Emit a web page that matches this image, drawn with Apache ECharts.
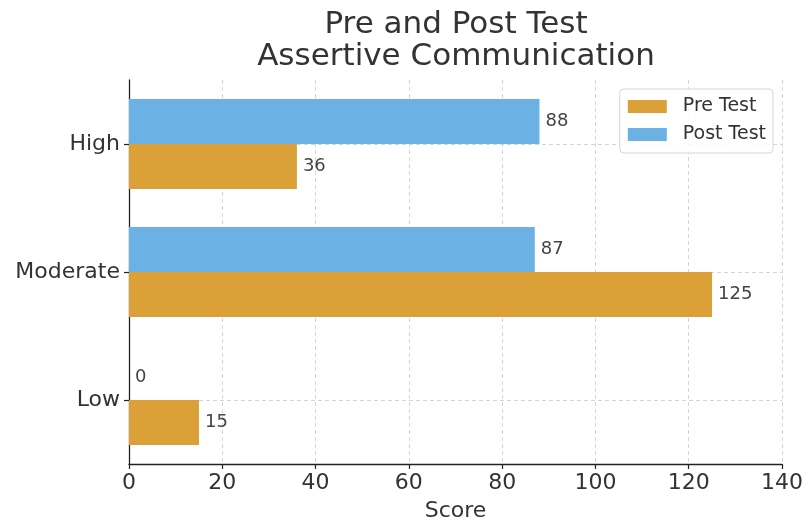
<!DOCTYPE html>
<html>
<head>
<meta charset="utf-8">
<script src="https://cdn.jsdelivr.net/npm/echarts@6/dist/echarts.min.js"></script>
<style>
  html, body { margin: 0; padding: 0; background: #fff; }
  #chart { width: 806px; height: 527px; }
</style>
</head>
<body>
<div id="chart"></div>
<script>
// Levels of assertive communication, bottom to top
const categories = ['Low', 'Moderate', 'High'];
const preTest = [15, 125, 36];
const postTest = [0, 87, 88];
const xTicks = { min: 0, max: 140, interval: 20 };

const FONT = '"DejaVu Sans", sans-serif';
const TEXT = '#333';
const ORANGE = '#dca038';
const BLUE = '#6bb1e3';
const GRID_LINE = { color: '#d4d4d4', type: [4, 3], width: 1 };

const chart = echarts.init(document.getElementById('chart'), null, { renderer: 'canvas' });

const labelStyle = {
  show: true,
  position: 'right',
  distance: 6,
  color: '#444',
  fontFamily: FONT,
  fontSize: 18
};

chart.setOption({
  backgroundColor: '#fff',
  animation: false,
  title: {
    text: 'Pre and Post Test\nAssertive Communication',
    left: 456,
    top: 9,
    textAlign: 'center',
    padding: 0,
    textStyle: {
      fontFamily: FONT,
      fontSize: 31,
      fontWeight: 'normal',
      color: TEXT,
      lineHeight: 32
    }
  },
  legend: {
    orient: 'vertical',
    right: 33,
    top: 89,
    padding: [8, 7, 9, 8],
    itemWidth: 39,
    itemHeight: 13,
    itemGap: 9,
    itemStyle: { borderWidth: 0 },
    backgroundColor: 'rgba(255,255,255,0.85)',
    borderColor: '#d6d6d6',
    borderWidth: 1,
    borderRadius: 4,
    icon: 'rect',
    textStyle: { fontFamily: FONT, fontSize: 19, color: TEXT, padding: [0, 0, 0, 11] },
    data: ['Pre Test', 'Post Test']
  },
  grid: {
    left: 129,
    right: 23,
    top: 80,
    bottom: 61,
    containLabel: false
  },
  xAxis: {
    type: 'value',
    min: xTicks.min,
    max: xTicks.max,
    interval: xTicks.interval,
    name: 'Score',
    nameLocation: 'middle',
    nameGap: 36,
    nameTextStyle: { fontFamily: FONT, fontSize: 22, color: TEXT },
    axisLine: { show: true, lineStyle: { color: '#222', width: 1.3 } },
    axisTick: { show: true, length: 5, lineStyle: { color: '#222', width: 1.2 } },
    axisLabel: { fontFamily: FONT, fontSize: 22, color: TEXT, margin: 8 },
    splitLine: { show: true, lineStyle: GRID_LINE }
  },
  yAxis: {
    type: 'category',
    data: categories,
    axisLine: { show: true, lineStyle: { color: '#222', width: 1.3 } },
    axisTick: { show: true, alignWithLabel: true, length: 5, lineStyle: { color: '#222', width: 1.2 } },
    axisLabel: { fontFamily: FONT, fontSize: 22, color: TEXT, margin: 9 },
    splitLine: { show: true, alignWithLabel: true, lineStyle: GRID_LINE }
  },
  series: [
    {
      name: 'Post Test',
      type: 'bar',
      data: postTest,
      barWidth: 45,
      barGap: '0%',
      itemStyle: { color: BLUE },
      label: labelStyle
    },
    {
      name: 'Pre Test',
      type: 'bar',
      data: preTest,
      barWidth: 45,
      barGap: '0%',
      itemStyle: { color: ORANGE },
      label: labelStyle
    }
  ]
});
</script>
</body>
</html>
